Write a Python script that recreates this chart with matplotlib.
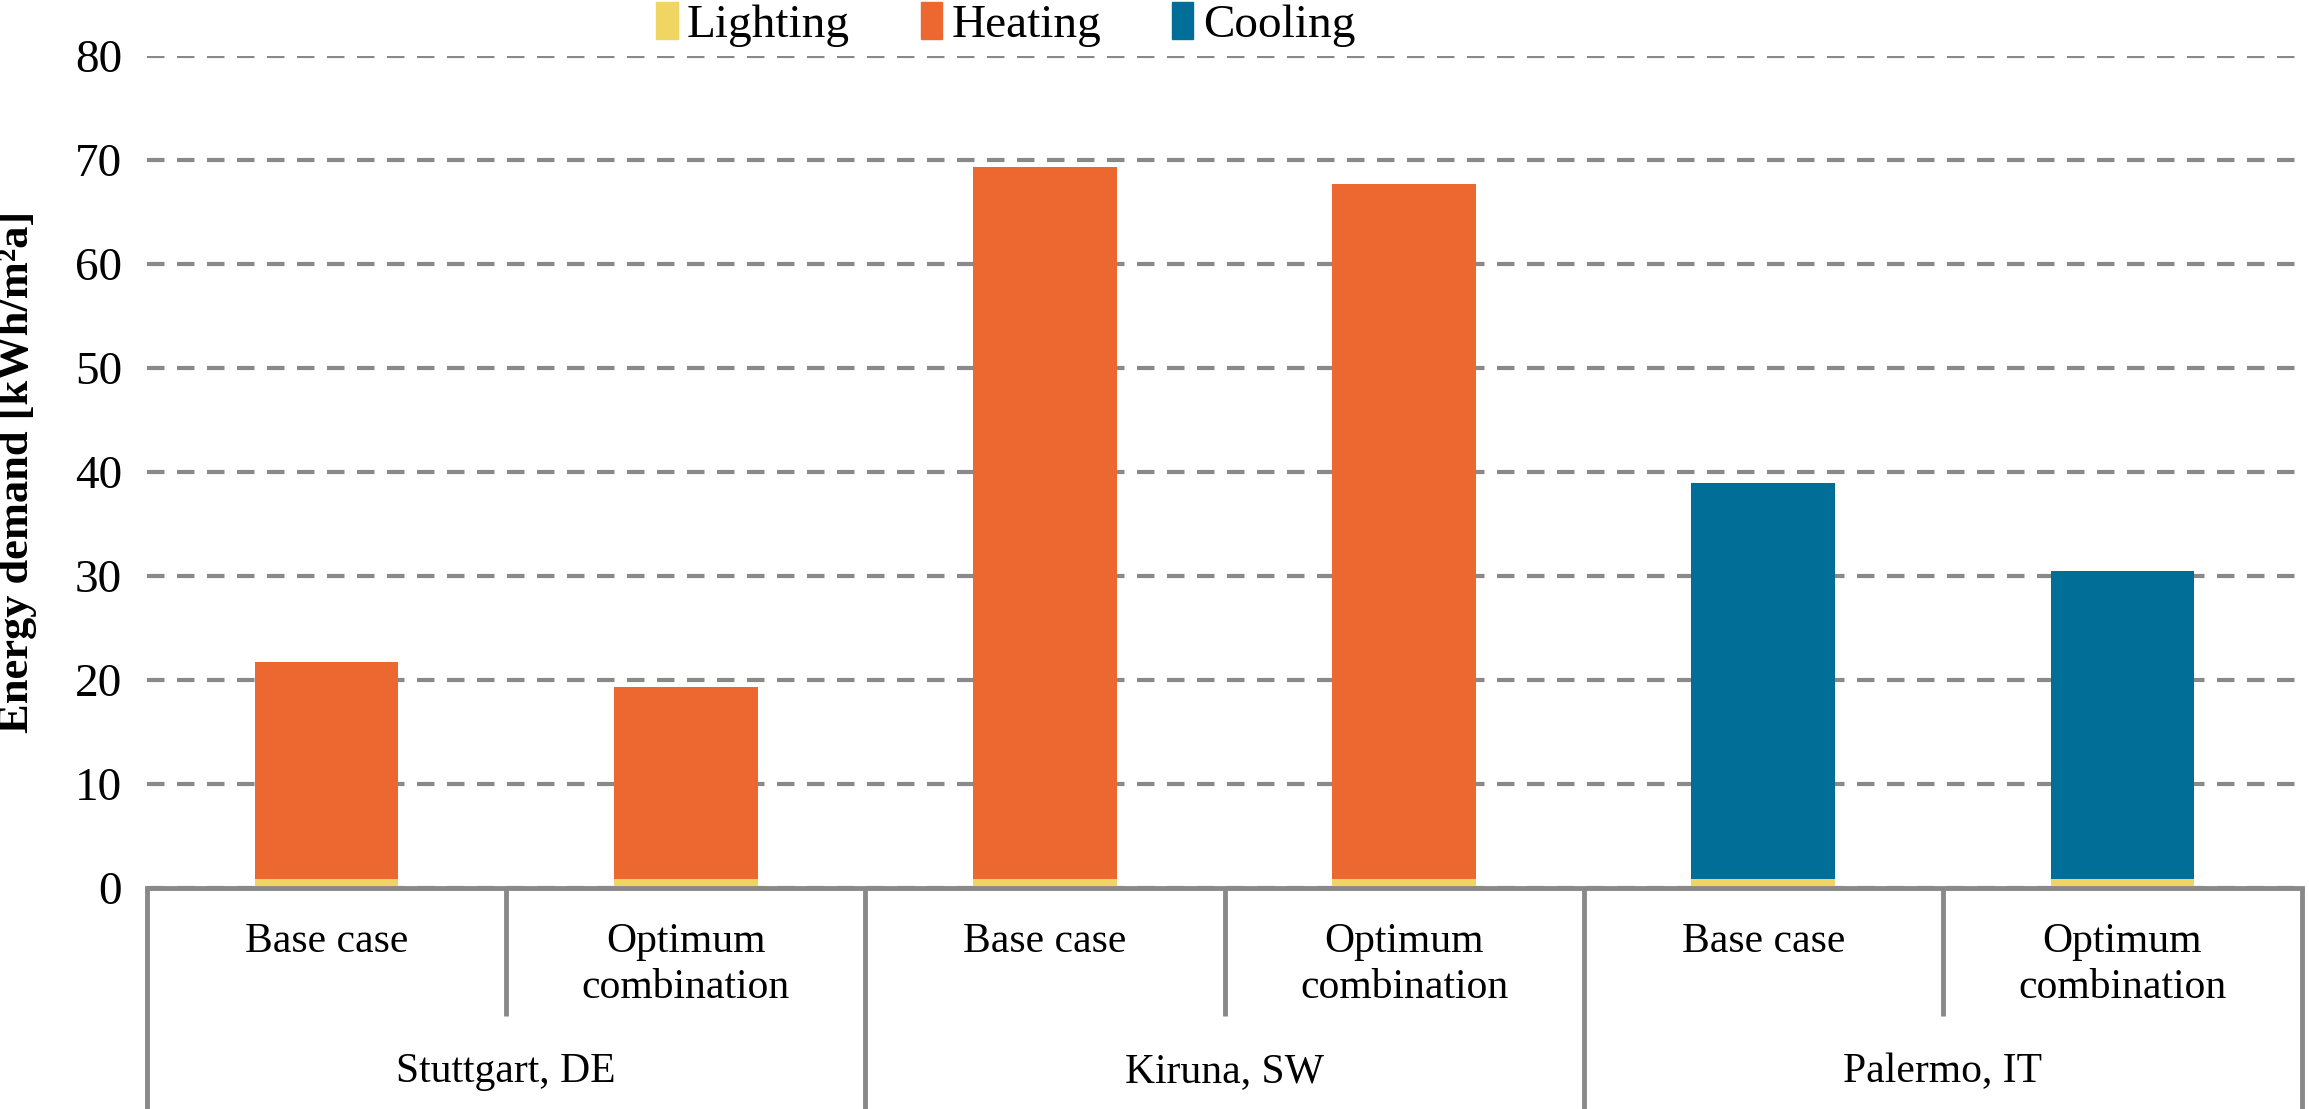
import numpy as np
import matplotlib
matplotlib.use("Agg")
import matplotlib.pyplot as plt
from matplotlib.patches import Patch

# data (kWh/m²a)
cities = ['Stuttgart, DE', 'Kiruna, SW', 'Palermo, IT']
cases = ['Base case', 'Optimum\ncombination']
lighting = [0.9, 0.9, 0.9, 0.9, 0.9, 0.9]
heating = [20.8, 18.4, 68.4, 66.8, 0.0, 0.0]
cooling = [0.0, 0.0, 0.0, 0.0, 38.0, 29.6]

c_light = '#F0D563'
c_heat = '#EC6830'
c_cool = '#006E96'
c_grid = '#898989'

plt.rcParams['font.family'] = ['Liberation Serif', 'DejaVu Serif']

fig = plt.figure(figsize=(23.09, 11.09), dpi=100)
ax = fig.add_axes([0.0637, 0.1993, 0.9333, 0.7502])

x = np.arange(len(lighting))
w = 0.4
light = np.array(lighting)
heat = np.array(heating)
cool = np.array(cooling)
ax.bar(x, light, w, color=c_light, zorder=3)
ax.bar(x, heat, w, bottom=light, color=c_heat, zorder=3)
ax.bar(x, cool, w, bottom=light + heat, color=c_cool, zorder=3)

ax.set_xlim(-0.5, len(x) - 0.5)
ax.set_ylim(0, 80)
ax.set_yticks(np.arange(0, 81, 10))
ax.yaxis.grid(True, color=c_grid, linestyle=(0, (4.2, 3.0)), linewidth=3.0, zorder=0)
ax.set_xticks([])
ax.tick_params(axis='y', length=0, pad=18, labelsize=34)
for s in ['top', 'right', 'left']:
    ax.spines[s].set_visible(False)
ax.spines['bottom'].set_color(c_grid)
ax.spines['bottom'].set_linewidth(3.5)
ax.spines['bottom'].set_zorder(4)

ax.set_ylabel('Energy demand [kWh/m²a]', fontsize=32, fontweight='bold')
ax.yaxis.set_label_coords(-0.051, 0.5)

# two-level category axis
tr = ax.get_xaxis_transform()
row1 = -0.154
row2 = -0.266
for i in range(len(x)):
    ax.text(i, -0.042, cases[i % 2], transform=tr, ha='center', va='top',
            fontsize=30, linespacing=1.25)
for k, city in enumerate(cities):
    ax.text(2 * k + 0.5, -0.221, city, transform=tr, ha='center', va='center', fontsize=30)
for b in np.arange(-0.5, len(x), 1.0):
    long_line = int(round(b + 0.5)) % 2 == 0
    ax.plot([b, b], [0, row2 if long_line else row1], transform=tr, color=c_grid,
            linewidth=3.5, clip_on=False, solid_capstyle='butt')

handles = [Patch(color=c_light, label='Lighting'),
           Patch(color=c_heat, label='Heating'),
           Patch(color=c_cool, label='Cooling')]
fig.legend(handles=handles, loc='center', bbox_to_anchor=(0.4356, 0.978), ncol=3,
           frameon=False, fontsize=34, handlelength=0.45, handleheight=0.85,
           handletextpad=0.2, columnspacing=1.5, borderaxespad=0)

fig.savefig('out.png', dpi=100)
